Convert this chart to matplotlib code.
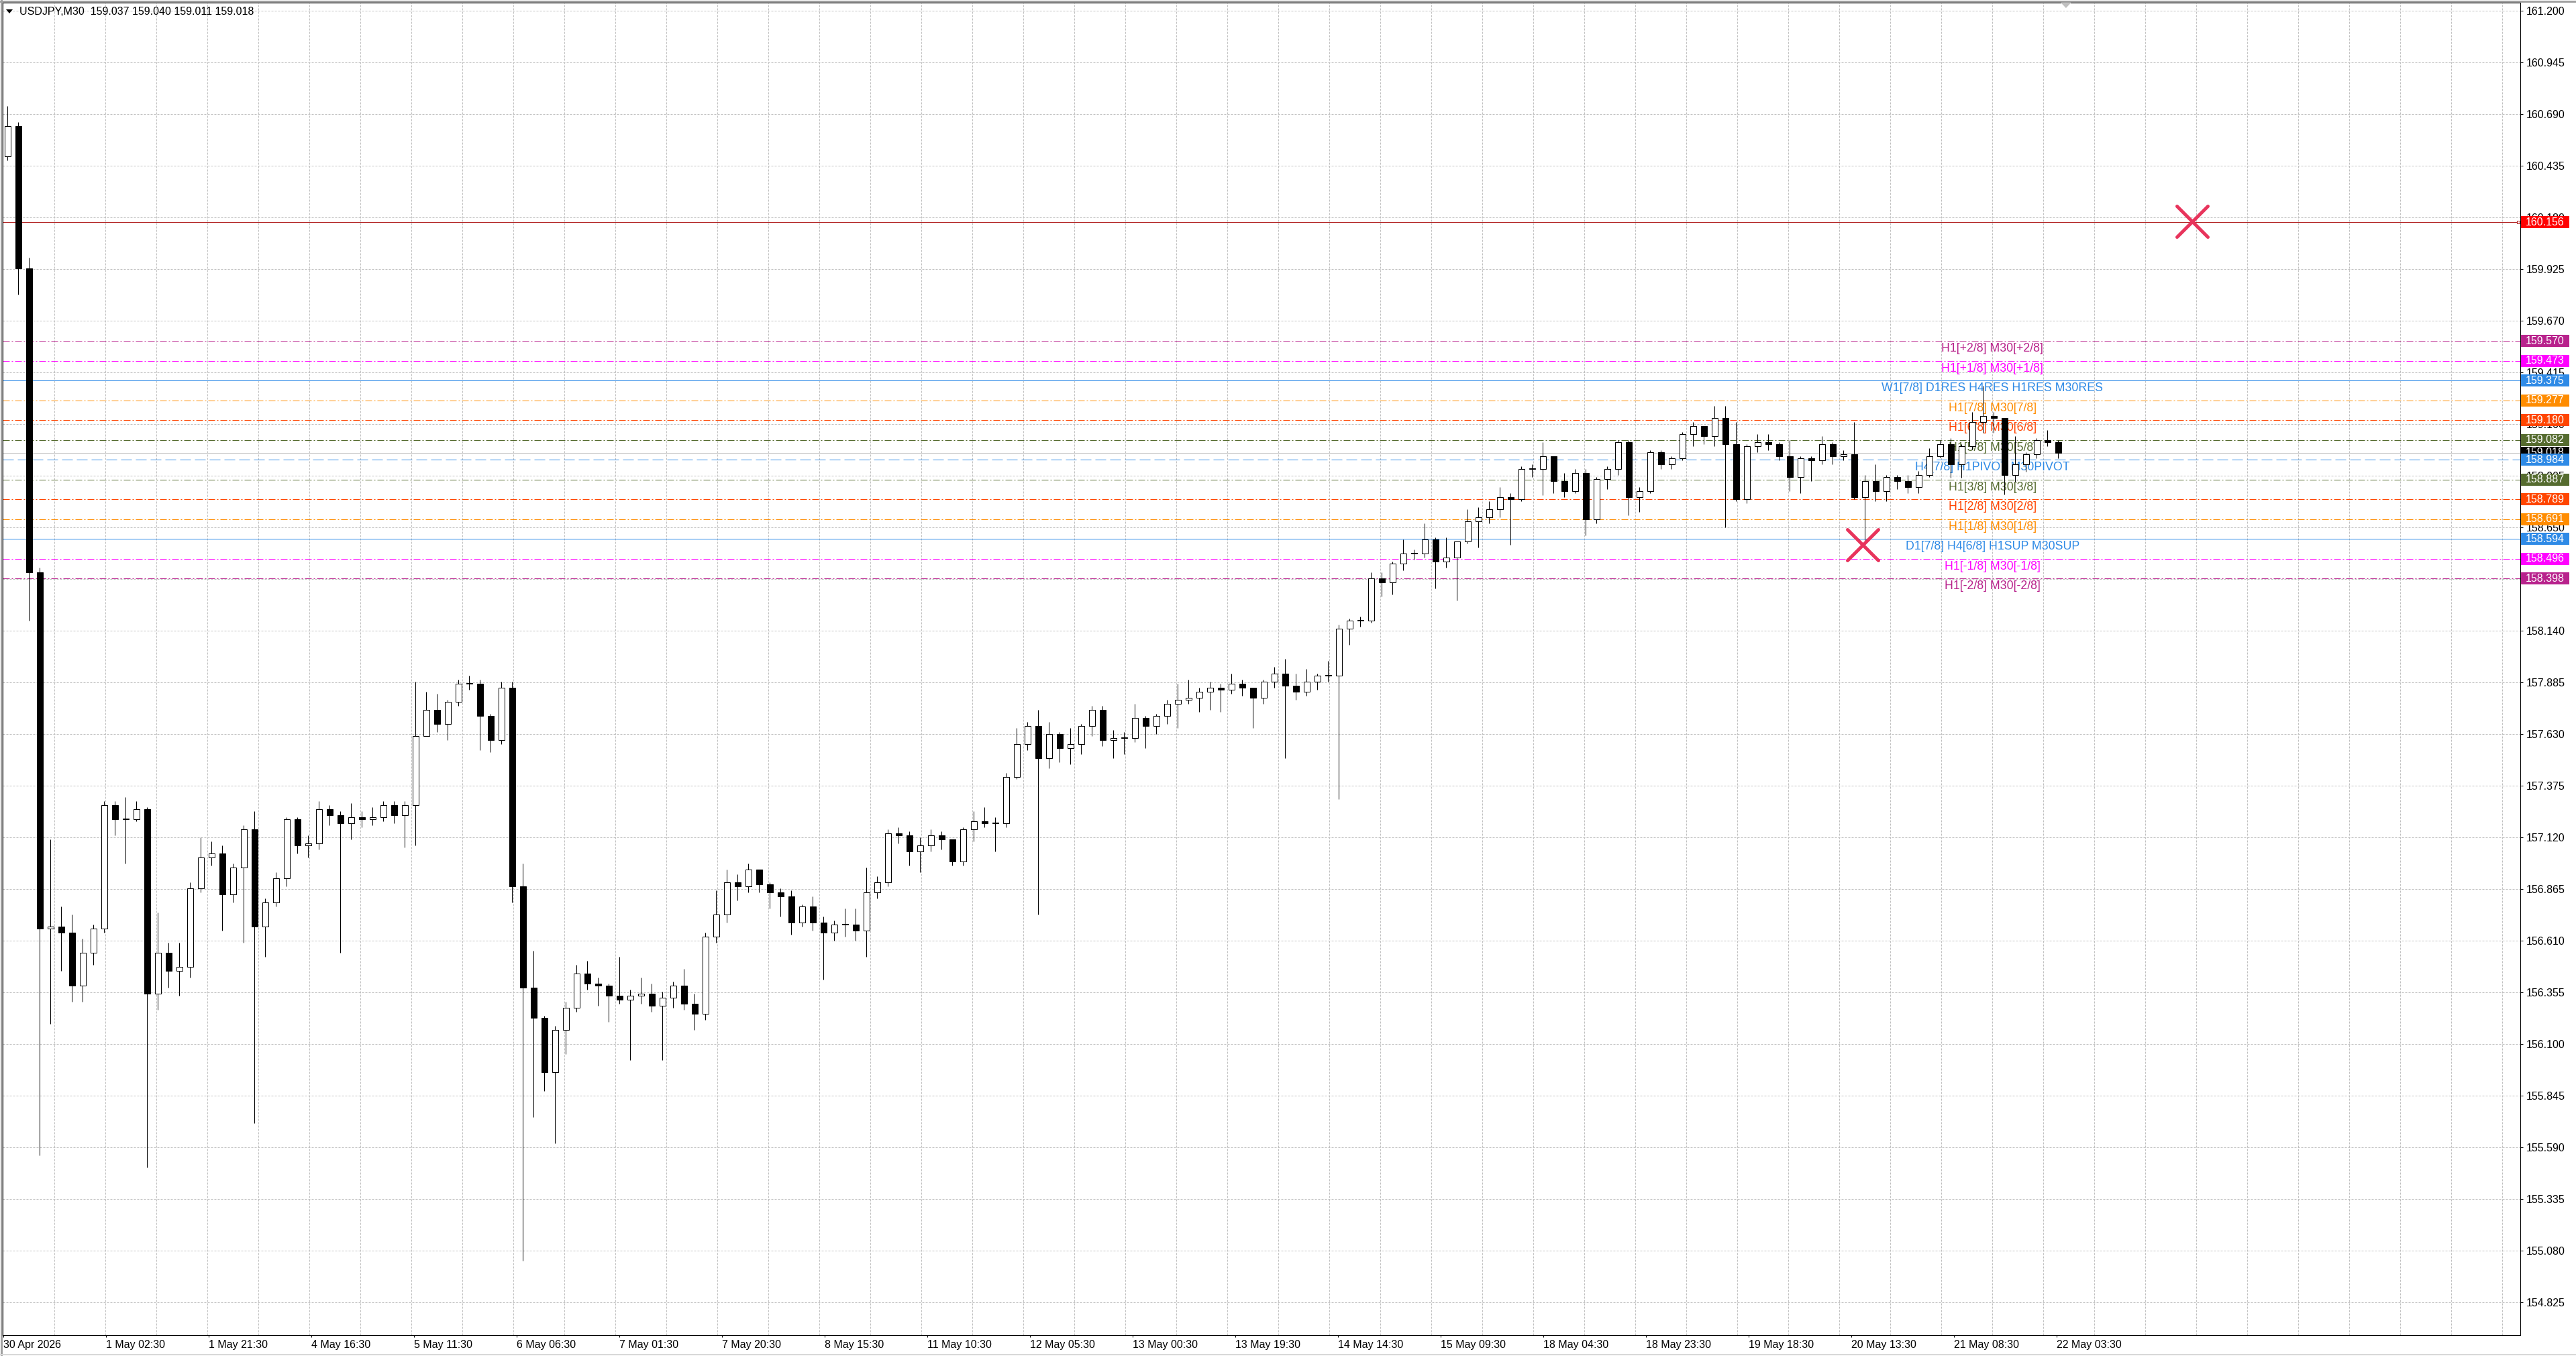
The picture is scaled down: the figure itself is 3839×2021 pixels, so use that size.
import numpy as np
import matplotlib
matplotlib.use("Agg")
import matplotlib.pyplot as plt
from matplotlib.patches import Rectangle, Polygon
from matplotlib.markers import MarkerStyle
from matplotlib.lines import Line2D
from matplotlib.transforms import blended_transform_factory

plt.rcParams['font.family'] = ['Liberation Sans', 'DejaVu Sans']

# ---------------- data ----------------
# candles grouped by 4 M30 bars (2 hours), first bar 30 Apr 07:30
symbol = "USDJPY,M30"
last_bar_ohlc = [159.037, 159.040, 159.011, 159.018]
first_open = 160.48
bars_per_candle = 4

closes = [
    160.63, 159.93, 158.43, 156.67, 156.68, 156.65, 156.39, 156.55, 156.67, 157.28,
    157.21, 157.21, 157.26, 156.35, 156.55, 156.46, 156.48, 156.87, 157.02, 157.04,
    156.84, 156.97, 157.16, 156.68, 156.80, 156.92, 157.21, 157.08, 157.09, 157.26,
    157.23, 157.19, 157.22, 157.21, 157.22, 157.28, 157.23, 157.28, 157.62, 157.75,
    157.68, 157.79, 157.88, 157.88, 157.72, 157.60, 157.86, 156.88, 156.38, 156.23,
    155.96, 156.17, 156.28, 156.45, 156.40, 156.39, 156.34, 156.32, 156.34, 156.35,
    156.29, 156.33, 156.39, 156.30, 156.25, 156.63, 156.74, 156.90, 156.88, 156.96,
    156.89, 156.85, 156.83, 156.70, 156.78, 156.70, 156.65, 156.69, 156.69, 156.66,
    156.85, 156.90, 157.14, 157.13, 157.05, 157.08, 157.13, 157.11, 157.00, 157.16,
    157.20, 157.19, 157.19, 157.42, 157.58, 157.67, 157.51, 157.63, 157.56, 157.58,
    157.67, 157.75, 157.60, 157.61, 157.61, 157.71, 157.67, 157.72, 157.78, 157.80,
    157.81, 157.84, 157.86, 157.85, 157.88, 157.86, 157.81, 157.89, 157.93, 157.87,
    157.84, 157.89, 157.92, 157.92, 158.15, 158.19, 158.19, 158.40, 158.38, 158.47,
    158.52, 158.52, 158.59, 158.48, 158.50, 158.58, 158.68, 158.70, 158.74, 158.80,
    158.79, 158.94, 158.94, 159.00, 158.88, 158.83, 158.92, 158.69, 158.89, 158.94,
    159.07, 158.80, 158.83, 159.02, 158.96, 158.99, 159.11, 159.15, 159.10, 159.19,
    159.06, 158.79, 159.05, 159.07, 159.06, 159.00, 158.90, 158.99, 158.98, 159.06,
    159.00, 159.01, 158.80, 158.88, 158.83, 158.90, 158.88, 158.85, 158.91, 159.00,
    159.06, 158.96, 159.05, 159.17, 159.20, 159.19, 158.91, 158.96, 159.01, 159.08,
    159.07, 159.018,
]
highs = [
    160.73, 160.65, 159.98, 158.45, 157.11, 156.78, 156.74, 156.62, 156.69, 157.30,
    157.30, 157.32, 157.30, 157.27, 156.75, 156.60, 156.60, 156.90, 157.12, 157.10,
    157.08, 156.99, 157.18, 157.25, 156.82, 156.95, 157.22, 157.22, 157.13, 157.30,
    157.28, 157.25, 157.29, 157.25, 157.27, 157.30, 157.30, 157.30, 157.89, 157.84,
    157.83, 157.80, 157.90, 157.92, 157.90, 157.73, 157.89, 157.89, 156.99, 156.56,
    156.24, 156.19, 156.31, 156.49, 156.51, 156.43, 156.40, 156.53, 156.37, 156.43,
    156.40, 156.36, 156.41, 156.47, 156.35, 156.65, 156.86, 156.96, 156.94, 156.99,
    156.96, 156.90, 156.87, 156.86, 156.79, 156.83, 156.73, 156.71, 156.77, 156.77,
    156.97, 156.93, 157.16, 157.17, 157.15, 157.12, 157.16, 157.15, 157.11, 157.17,
    157.25, 157.27, 157.22, 157.44, 157.66, 157.69, 157.75, 157.69, 157.64, 157.66,
    157.68, 157.77, 157.77, 157.65, 157.64, 157.78, 157.72, 157.73, 157.80, 157.88,
    157.90, 157.86, 157.89, 157.88, 157.93, 157.90, 157.86, 157.90, 157.96, 158.00,
    157.93, 157.95, 157.93, 157.99, 158.17, 158.20, 158.21, 158.43, 158.43, 158.48,
    158.59, 158.54, 158.67, 158.60, 158.60, 158.58, 158.74, 158.75, 158.78, 158.85,
    158.82, 158.95, 158.96, 159.07, 159.00, 158.92, 158.94, 158.94, 158.90, 158.95,
    159.08, 159.08, 158.85, 159.03, 159.03, 159.00, 159.12, 159.17, 159.15, 159.25,
    159.25, 159.17, 159.06, 159.11, 159.11, 159.07, 159.08, 159.00, 159.00, 159.10,
    159.07, 159.03, 159.17, 158.91, 158.96, 158.91, 158.91, 158.91, 158.93, 159.04,
    159.08, 159.09, 159.06, 159.22, 159.35, 159.22, 159.19, 159.10, 159.02, 159.09,
    159.13, 159.08,
]
lows = [
    160.46, 159.80, 158.19, 155.55, 156.20, 156.46, 156.31, 156.31, 156.49, 156.65,
    157.13, 156.99, 157.20, 155.49, 156.27, 156.38, 156.34, 156.43, 156.85, 156.98,
    156.66, 156.80, 156.60, 155.71, 156.53, 156.78, 156.88, 157.04, 157.02, 157.06,
    157.18, 156.55, 157.11, 157.17, 157.18, 157.20, 157.19, 157.07, 157.08, 157.62,
    157.64, 157.60, 157.77, 157.85, 157.55, 157.54, 157.58, 156.80, 155.03, 155.74,
    155.87, 155.61, 156.05, 156.26, 156.37, 156.29, 156.21, 156.30, 156.02, 156.30,
    156.26, 156.02, 156.28, 156.27, 156.17, 156.22, 156.60, 156.70, 156.81, 156.85,
    156.85, 156.77, 156.73, 156.64, 156.68, 156.66, 156.42, 156.61, 156.63, 156.61,
    156.53, 156.82, 156.88, 157.09, 156.98, 156.95, 157.05, 157.06, 156.98, 156.98,
    157.10, 157.17, 157.05, 157.17, 157.41, 157.55, 156.74, 157.46, 157.49, 157.48,
    157.53, 157.62, 157.57, 157.51, 157.53, 157.59, 157.56, 157.63, 157.68, 157.66,
    157.78, 157.74, 157.75, 157.74, 157.83, 157.82, 157.66, 157.78, 157.86, 157.51,
    157.80, 157.82, 157.85, 157.89, 157.31, 158.07, 158.16, 158.18, 158.31, 158.32,
    158.44, 158.49, 158.50, 158.35, 158.45, 158.29, 158.57, 158.55, 158.67, 158.70,
    158.565, 158.78, 158.90, 158.81, 158.82, 158.80, 158.82, 158.61, 158.67, 158.84,
    158.91, 158.71, 158.725, 158.82, 158.94, 158.94, 158.98, 159.05, 159.06, 159.05,
    158.65, 158.78, 158.77, 159.02, 159.03, 158.98, 158.83, 158.82, 158.88, 158.96,
    158.96, 158.98, 158.79, 158.587, 158.78, 158.78, 158.84, 158.82, 158.82, 158.90,
    158.996, 158.896, 158.896, 159.034, 159.117, 159.117, 158.813, 158.874, 158.924, 158.99,
    159.05, 158.99,
]

time_labels = [
    "30 Apr 2026", "1 May 02:30", "1 May 21:30", "4 May 16:30", "5 May 11:30",
    "6 May 06:30", "7 May 01:30", "7 May 20:30", "8 May 15:30", "11 May 10:30",
    "12 May 05:30", "13 May 00:30", "13 May 19:30", "14 May 14:30", "15 May 09:30",
    "18 May 04:30", "18 May 23:30", "19 May 18:30", "20 May 13:30", "21 May 08:30",
    "22 May 03:30",
]
label_step_bars = 38.25      # labels sit 153 px apart, bars are 4 px
grid_step_bars = 19

price_ticks = [
    161.200, 160.945, 160.690, 160.435, 160.180, 159.925, 159.670, 159.415,
    159.160, 158.905, 158.650, 158.395, 158.140, 157.885, 157.630, 157.375,
    157.120, 156.865, 156.610, 156.355, 156.100, 155.845, 155.590, 155.335,
    155.080, 154.825,
]

level_prices = [159.570, 159.473, 159.375, 159.277, 159.180, 159.082, 158.984,
                158.887, 158.789, 158.691, 158.594, 158.496, 158.398]
level_names = [
    "H1[+2/8] M30[+2/8]", "H1[+1/8] M30[+1/8]", "W1[7/8] D1RES H4RES H1RES M30RES",
    "H1[7/8] M30[7/8]", "H1[6/8] M30[6/8]", "H1[5/8] M30[5/8]",
    "H4[7/8] H1PIVOT M30PIVOT", "H1[3/8] M30[3/8]", "H1[2/8] M30[2/8]",
    "H1[1/8] M30[1/8]", "D1[7/8] H4[6/8] H1SUP M30SUP", "H1[-1/8] M30[-1/8]",
    "H1[-2/8] M30[-2/8]",
]
level_colors = ["#b8228c", "#ff00ff", "#2e8ae6", "#ff8c00", "#ff4500", "#556b2f",
                "#2e8ae6", "#556b2f", "#ff4500", "#ff8c00", "#2e8ae6", "#ff00ff",
                "#b8228c"]
level_styles = ["dashdot", "dashdot", "solid", "dashdot", "dashdot", "dashdot",
                "dashed", "dashdot", "dashdot", "dashdot", "solid", "dashdot",
                "dashdot"]
level_label_bar = 741

alert_price = 160.156
bid_price = 159.018
cross_bars = [692.7, 815.4]
cross_prices = [158.564, 160.160]

# ---------------- layout (pixel geometry of the screenshot) ----------------
W, H, DPI = 3839, 2021, 100
PX = 72.0 / DPI          # one pixel in points
FS = 16 * PX             # terminal font, ~16 px
FS_LEVEL = 17.7 * PX     # level captions are a bit larger

fig = plt.figure(figsize=(W / DPI, H / DPI), dpi=DPI, facecolor="white")
ax = fig.add_axes([4 / W, 1 - 1990 / H, (3756 - 4) / W, (1990 - 4) / H])
ax.set_facecolor("white")

x_left, x_right = -0.325, 937.675
y_low, y_high = 154.6636, 161.2397
px_per_price = 1986 / (y_high - y_low)

# grid
for b in np.arange(grid_step_bars, x_right, grid_step_bars):
    ax.axvline(b, color="#c0c0c0", lw=PX, ls=(0, (3, 2)), zorder=1)
for p in price_ticks:
    ax.axhline(p, color="#c0c0c0", lw=PX, ls=(0, (3, 2)), zorder=1)

# Murrey levels
style_map = {"dashdot": (0, (10, 3, 2, 3)), "dashed": (0, (16, 6)), "solid": "-"}
for p, name, c, st in zip(level_prices, level_names, level_colors, level_styles):
    ax.axhline(p, color=c, lw=PX, ls=style_map[st], zorder=2)
    ax.annotate(name, (level_label_bar, p), xytext=(0, -3 * PX),
                textcoords="offset points", ha="center", va="top",
                color=c, fontsize=FS_LEVEL, zorder=3)

ax.axhline(bid_price, color="#c0c0c0", lw=PX, zorder=2)
ax.axhline(alert_price, color="#b22222", lw=PX, zorder=2)
ax.plot([x_right - 0.8], [alert_price], marker="s", ms=5 * PX, mfc="white",
        mec="#b22222", mew=PX, clip_on=False, zorder=3)

# candles
closes_a = np.array(closes)
opens_a = np.concatenate([[first_open], closes_a[:-1]])
xs = np.arange(len(closes_a)) * bars_per_candle + (bars_per_candle - 1) / 2
ax.vlines(xs, lows, highs, color="black", lw=PX, zorder=4)
body_bottom = np.minimum(opens_a, closes_a)
body_h = np.maximum(np.abs(closes_a - opens_a), 1.0 / px_per_price)
body_col = ["white" if c >= o else "black" for o, c in zip(opens_a, closes_a)]
ax.bar(xs, body_h, bottom=body_bottom, width=2.4, color=body_col,
       edgecolor="black", linewidth=PX, zorder=5)

# crosses
ax.plot(cross_bars, cross_prices, ls="none",
        marker=MarkerStyle("x", capstyle="round"), ms=46 * PX, mew=5 * PX,
        color="#e8345c", zorder=6, clip_on=False)

ax.set_xlim(x_left, x_right)
ax.set_ylim(y_low, y_high)

# axes
for s in ax.spines.values():
    s.set_color("black")
    s.set_linewidth(PX)

tick_pos = [i * label_step_bars for i in range(len(time_labels))]
ax.set_xticks(tick_pos)
ax.set_xticklabels(time_labels)
for t in ax.get_xticklabels():
    t.set_horizontalalignment("left")
ax.tick_params(axis="x", direction="out", length=3 * PX, width=PX,
               pad=4 * PX, labelsize=FS, colors="black")

ax.yaxis.tick_right()
ax.set_yticks(price_ticks)
ax.set_yticklabels([f"{p:.3f}" for p in price_ticks])
ax.tick_params(axis="y", direction="out", length=4 * PX, width=PX,
               pad=5 * PX, labelsize=FS, colors="black")

# price boxes on the scale
trans = blended_transform_factory(fig.transFigure, ax.transData)
box_h = 18 / px_per_price


def price_box(p, color, z):
    fig.add_artist(Rectangle((3757 / W, p - box_h / 2), 72 / W, box_h,
                             transform=trans, fc=color, ec="none", zorder=z))
    fig.text(3764 / W, p, f"{p:.3f}", transform=trans, color="white",
             fontsize=FS, va="center", ha="left", zorder=z + 0.1)


price_box(alert_price, "#ff0000", 5)
price_box(bid_price, "#000000", 4)
for p, c in zip(level_prices, level_colors):
    price_box(p, c, 5)

# header
hdr = f"{symbol}  " + " ".join(f"{v:.3f}" for v in last_bar_ohlc)
fig.text(29 / W, 1 - 17 / H, hdr, fontsize=FS, va="center", ha="left")
fig.add_artist(Polygon([[9 / W, 1 - 14 / H], [19 / W, 1 - 14 / H],
                        [14 / W, 1 - 20 / H]], closed=True,
                       transform=fig.transFigure, fc="black", ec="none"))

# chart shift marker just after the last bar
shift_b = len(closes) * bars_per_candle + 0.4
tb = blended_transform_factory(ax.transData, ax.transAxes)
fig.add_artist(Polygon([[shift_b - 1.9, 1.0], [shift_b + 1.9, 1.0],
                        [shift_b, 1 - 8 / 1986]], closed=True, transform=tb,
                       fc="#c0c0c0", ec="none", zorder=7))

# window frame
fig.add_artist(Line2D([0, 1], [1 - 1.5 / H] * 2, transform=fig.transFigure,
                      color="#a0a0a0", lw=3 * PX))
fig.add_artist(Line2D([1.5 / W] * 2, [0, 1], transform=fig.transFigure,
                      color="#a0a0a0", lw=3 * PX))
fig.add_artist(Line2D([0, 1], [1 - 2019 / H] * 2, transform=fig.transFigure,
                      color="#d8d8d8", lw=2 * PX))

fig.savefig("out.png", dpi=DPI, facecolor="white")
